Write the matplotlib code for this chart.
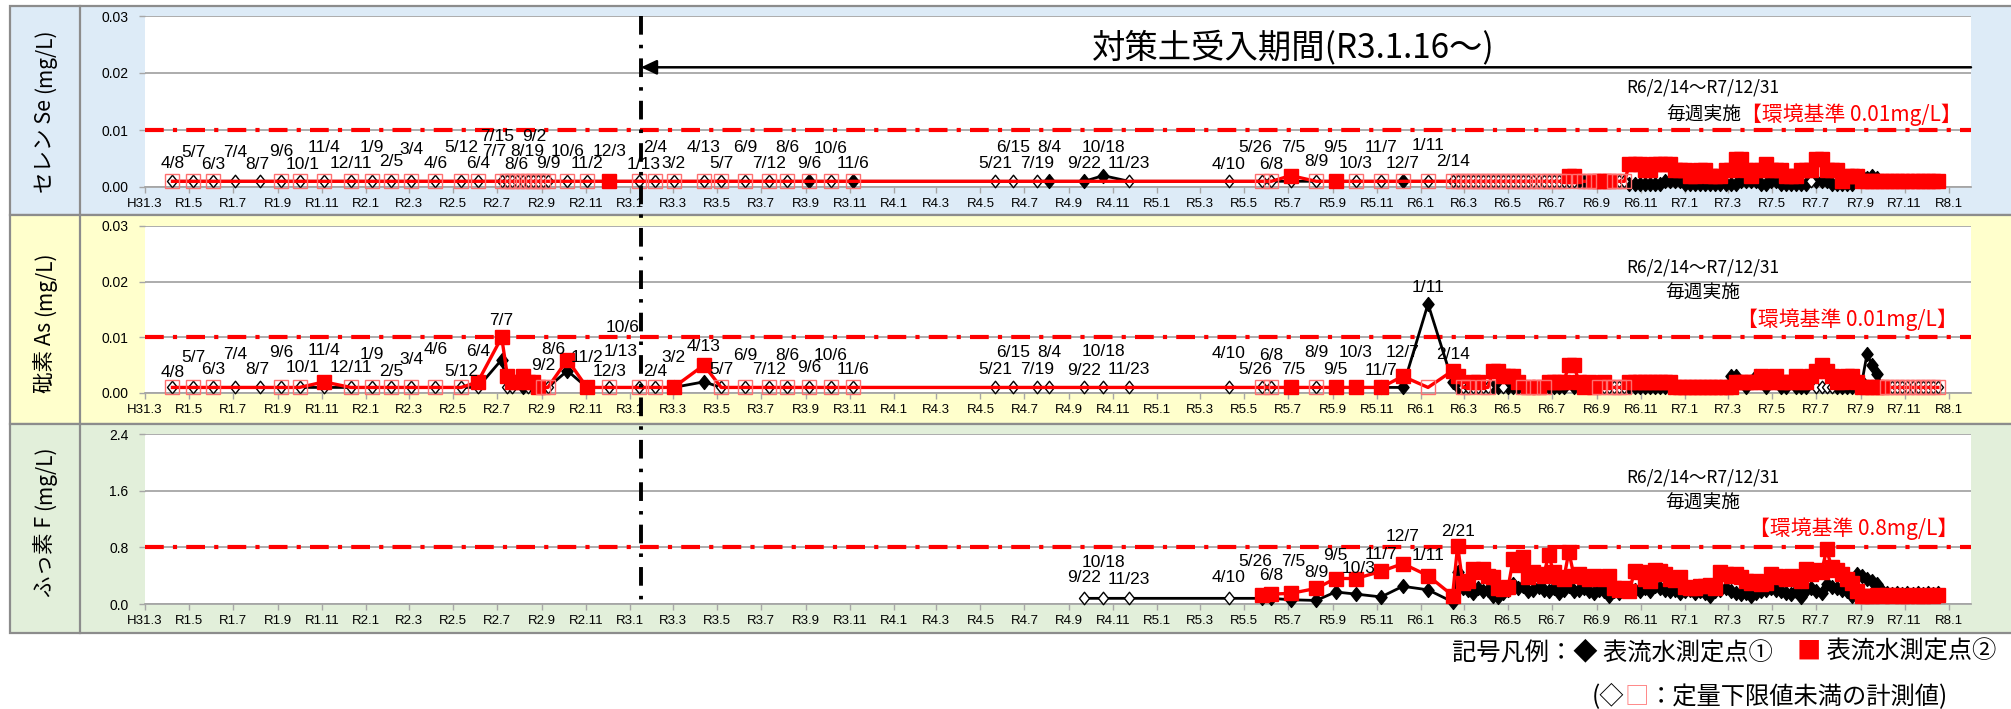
import matplotlib
matplotlib.use("Agg")
import matplotlib.pyplot as plt
import matplotlib.dates as mdates
from matplotlib import font_manager
from matplotlib.patches import Rectangle
from matplotlib.lines import Line2D
from matplotlib.path import Path
from matplotlib.ticker import FixedLocator, FuncFormatter
import numpy as np
import pandas as pd

ND = "ND"   # 定量下限値未満 (open marker)
N = None    # not measured

# ---------------- data ----------------
x_start = "2019-03-01"
x_end = "2026-02-01"
soil_start = "2021-01-16"   # 対策土受入開始

early_dates = [
    "2019-04-08", "2019-05-07", "2019-06-03", "2019-07-04", "2019-08-07", "2019-09-06", "2019-10-01", "2019-11-04", "2019-12-11",
    "2020-01-09", "2020-02-05", "2020-03-04", "2020-04-06", "2020-05-12", "2020-06-04",
    "2020-07-07", "2020-07-15", "2020-07-21", "2020-07-28", "2020-08-06", "2020-08-12", "2020-08-19", "2020-08-26", "2020-09-02", "2020-09-09",
    "2020-10-06", "2020-11-02", "2020-12-03",
    "2021-01-13", "2021-02-04", "2021-03-02", "2021-04-13", "2021-05-07", "2021-06-09", "2021-07-12", "2021-08-06", "2021-09-06", "2021-10-06", "2021-11-06",
    "2022-05-21", "2022-06-15", "2022-07-19", "2022-08-04", "2022-09-22", "2022-10-18", "2022-11-23",
    "2023-04-10", "2023-05-26", "2023-06-08", "2023-07-05", "2023-08-09", "2023-09-05", "2023-10-03", "2023-11-07", "2023-12-07",
    "2024-01-11"]
f_early_dates = ["2022-09-22", "2022-10-18", "2022-11-23", "2023-04-10", "2023-05-26", "2023-06-08", "2023-07-05",
                 "2023-08-09", "2023-09-05", "2023-10-03", "2023-11-07", "2023-12-07", "2024-01-11"]
weekly_start = "2024-02-14"   # 毎週実施

# セレン Se (mg/L)
se_p1_early = [ND, ND, ND, ND, ND, ND, ND, ND, ND,
               ND, ND, ND, ND, ND, ND,
               ND, ND, ND, ND, ND, ND, ND, ND, ND, ND,
               ND, ND, ND,
               ND, ND, ND, ND, ND, ND, ND, ND, 0.001, ND, 0.001,
               ND, ND, ND, 0.001, 0.001, 0.002, ND,
               ND, ND, ND, ND, ND, ND, ND, ND, 0.001,
               ND]
se_p2_early = [ND, ND, ND, N, N, ND, ND, ND, ND,
               ND, ND, ND, ND, ND, ND,
               ND, ND, ND, ND, ND, ND, ND, ND, ND, ND,
               ND, ND, 0.001,
               ND, ND, ND, ND, ND, ND, ND, ND, ND, ND, ND,
               N, N, N, N, N, N, N,
               N, ND, ND, 0.002, ND, 0.001, ND, ND, ND,
               ND]
se_p1_weekly = [ND, ND, ND, ND, ND, ND, ND, ND, ND, ND,
                ND, ND, ND, ND, ND, ND, ND, ND, ND, ND,
                ND, ND, ND, ND, ND, 0.001, 0.001, ND, ND, ND,
                ND, ND, ND, ND, ND, 0.0005, 0.0005, 0.0005, 0.0005, 0.0005,
                0.0005, 0.0005, 0.001, 0.001, 0.001, 0.001, 0.0005, 0.0005, 0.0005, 0.0005,
                0.0005, 0.0005, 0.0005, 0.0005, 0.0005, 0.0005, 0.0005, 0.001, 0.001, 0.001,
                0.001, 0.0005, 0.0005, 0.001, 0.001, 0.0005, 0.0005, 0.0005, 0.0005, 0.0005,
                0.0005, ND, 0.001, 0.001, 0.001, 0.0005, 0.0005, 0.0005, 0.0005, 0.0005,
                0.002, 0.002, 0.0015, 0.002, 0.0015, ND, ND, ND, ND, ND,
                ND, ND, ND, ND, ND, ND, ND]
se_p2_weekly = [ND, ND, ND, ND, ND, ND, ND, ND, ND, ND,
                ND, ND, ND, ND, ND, ND, ND, ND, ND, ND,
                ND, ND, ND, 0.002, 0.002, ND, ND, ND, 0.001, 0.001,
                0.001, 0.001, ND, ND, ND, 0.004, 0.004, 0.004, 0.003, 0.003,
                0.004, 0.004, 0.004, 0.004, 0.003, 0.003, 0.003, 0.002, 0.002, 0.003,
                0.003, 0.002, 0.002, 0.002, 0.003, 0.003, 0.005, 0.005, 0.003, 0.002,
                0.003, 0.003, 0.004, 0.003, 0.003, 0.003, 0.002, 0.002, 0.002, 0.003,
                0.003, 0.003, 0.005, 0.005, 0.003, 0.003, 0.003, 0.001, 0.002, 0.002,
                0.002, 0.001, 0.001, 0.001, 0.001, 0.001, 0.001, 0.001, 0.001, 0.001,
                0.001, 0.001, 0.001, 0.001, 0.001, 0.001, 0.001]

# 砒素 As (mg/L)
as_p1_early = [ND, ND, ND, ND, ND, ND, ND, ND, ND,
               ND, ND, ND, ND, ND, ND,
               0.006, ND, ND, 0.002, 0.001, ND, ND, ND, ND, ND,
               0.004, 0.001, ND,
               ND, ND, 0.001, 0.002, ND, ND, ND, ND, ND, ND, ND,
               ND, ND, ND, ND, ND, ND, ND,
               ND, ND, ND, ND, ND, ND, ND, 0.001, 0.001,
               0.016]
as_p2_early = [ND, ND, ND, N, N, ND, ND, 0.002, ND,
               ND, ND, ND, ND, ND, 0.002,
               0.010, 0.003, 0.002, 0.002, 0.003, 0.002, 0.002, 0.001, ND, ND,
               0.006, 0.001, ND,
               ND, ND, 0.001, 0.005, ND, ND, ND, ND, ND, ND, ND,
               N, N, N, N, N, N, N,
               N, ND, ND, 0.001, ND, 0.001, 0.001, 0.001, 0.003,
               ND]
as_p1_weekly = [0.002, 0.001, ND, ND, ND, ND, ND, ND, 0.001, 0.001,
                ND, 0.001, 0.001, 0.001, ND, ND, ND, ND, ND, 0.001,
                0.001, 0.001, 0.001, 0.002, 0.001, ND, ND, ND, ND, ND,
                ND, ND, ND, ND, ND, 0.001, 0.001, 0.001, 0.001, 0.001,
                0.001, 0.001, 0.001, 0.001, 0.001, 0.001, 0.001, 0.001, 0.001, 0.001,
                0.001, 0.001, 0.001, 0.001, 0.001, 0.003, 0.003, 0.002, 0.001, 0.002,
                0.003, 0.002, 0.001, 0.002, 0.002, 0.001, 0.001, 0.002, 0.001, 0.001,
                0.001, 0.002, ND, ND, ND, ND, 0.001, 0.001, 0.001, 0.001,
                0.001, 0.002, 0.007, 0.005, 0.0035, 0.001, ND, ND, ND, ND,
                ND, ND, ND, ND, ND, ND, ND]
as_p2_weekly = [0.004, 0.003, ND, ND, 0.002, 0.002, ND, ND, 0.004, 0.004,
                0.003, 0.003, 0.003, 0.002, ND, 0.001, ND, 0.001, ND, 0.002,
                0.002, 0.002, 0.002, 0.005, 0.005, 0.002, 0.001, 0.002, 0.001, ND,
                0.002, ND, ND, ND, ND, 0.002, 0.002, 0.002, 0.002, 0.002,
                0.002, 0.002, 0.002, 0.002, 0.001, 0.001, 0.001, 0.001, 0.001, 0.001,
                0.001, 0.001, 0.001, 0.001, 0.001, 0.001, 0.002, 0.002, 0.002, 0.002,
                0.002, 0.003, 0.002, 0.002, 0.003, 0.002, 0.002, 0.002, 0.003, 0.002,
                0.002, 0.003, 0.004, 0.005, 0.004, 0.003, 0.002, 0.002, 0.003, 0.003,
                0.002, 0.001, 0.001, 0.001, 0.001, 0.001, ND, ND, ND, ND,
                ND, ND, ND, ND, ND, ND, ND]

# ふっ素 F (mg/L)
f_p1_early = [ND, ND, ND, ND, 0.08, 0.08, 0.06, 0.05, 0.17, 0.14, 0.10, 0.25, 0.20]
f_p2_early = [N, N, N, N, 0.13, 0.14, 0.15, 0.22, 0.36, 0.36, 0.46, 0.57, 0.40]
f_p1_weekly = [0.03, 0.45, 0.22, 0.20, 0.15, 0.22, 0.18, 0.20, 0.12, 0.10,
               0.15, 0.20, 0.28, 0.22, 0.25, 0.18, 0.20, 0.24, 0.20, 0.18,
               0.22, 0.15, 0.20, 0.25, 0.18, 0.20, 0.22, 0.18, 0.15, 0.20,
               0.18, 0.12, 0.18, 0.15, 0.20, 0.22, 0.20, 0.18, 0.22, 0.18,
               0.25, 0.22, 0.20, 0.18, 0.20, 0.15, 0.18, 0.20, 0.15, 0.18,
               0.16, 0.12, 0.18, 0.20, 0.22, 0.18, 0.16, 0.14, 0.15, 0.12,
               0.16, 0.18, 0.20, 0.22, 0.20, 0.18, 0.16, 0.14, 0.18, 0.10,
               0.20, 0.22, 0.18, 0.15, 0.28, 0.24, 0.22, 0.20, 0.18, 0.12,
               0.42, 0.40, 0.36, 0.32, 0.28, 0.18, 0.15, 0.14, 0.15, 0.14,
               0.15, 0.14, 0.15, 0.14, 0.15, 0.14, 0.15]
f_p2_weekly = [0.12, 0.82, 0.30, 0.32, 0.50, 0.45, 0.50, 0.40, 0.38, 0.22,
               0.21, 0.24, 0.64, 0.55, 0.66, 0.38, 0.45, 0.42, 0.40, 0.69,
               0.45, 0.38, 0.35, 0.74, 0.40, 0.42, 0.38, 0.36, 0.40, 0.38,
               0.35, 0.40, 0.23, 0.20, 0.22, 0.18, 0.47, 0.45, 0.36, 0.33,
               0.48, 0.46, 0.42, 0.36, 0.34, 0.38, 0.24, 0.22, 0.23, 0.26,
               0.25, 0.27, 0.22, 0.45, 0.42, 0.40, 0.42, 0.38, 0.33, 0.30,
               0.33, 0.28, 0.30, 0.42, 0.40, 0.38, 0.36, 0.40, 0.38, 0.33,
               0.50, 0.42, 0.48, 0.45, 0.77, 0.52, 0.48, 0.42, 0.35, 0.30,
               0.18, 0.11, 0.12, 0.11, 0.13, 0.12, 0.13, 0.12, 0.13, 0.12,
               0.12, 0.13, 0.12, 0.12, 0.13, 0.12, 0.13]

quant_limit = {"se": 0.001, "as": 0.001, "f": 0.08}
env_standard = {"se": 0.01, "as": 0.01, "f": 0.8}
y_ticks = {"se": [0, 0.01, 0.02, 0.03], "as": [0, 0.01, 0.02, 0.03], "f": [0, 0.8, 1.6, 2.4]}

# date labels (date, y position[, day shift])
se_labels = [("2019-04-08", 0.0042), ("2019-05-07", 0.0061), ("2019-06-03", 0.0040), ("2019-07-04", 0.0061),
             ("2019-08-07", 0.0040, -3), ("2019-09-06", 0.0063), ("2019-10-01", 0.0040, 5), ("2019-11-04", 0.0070),
             ("2019-12-11", 0.0042), ("2020-01-09", 0.0070), ("2020-02-05", 0.0045), ("2020-03-04", 0.0065),
             ("2020-04-06", 0.0042), ("2020-05-12", 0.0070), ("2020-06-04", 0.0042), ("2020-07-07", 0.0063, -10),
             ("2020-07-15", 0.0088, -14), ("2020-08-06", 0.0040, -10), ("2020-08-19", 0.0063, -8), ("2020-09-02", 0.0088, -12),
             ("2020-09-09", 0.0042), ("2020-10-06", 0.0063), ("2020-11-02", 0.0042), ("2020-12-03", 0.0063),
             ("2021-01-13", 0.0040, 6), ("2021-02-04", 0.0070), ("2021-03-02", 0.0042), ("2021-04-13", 0.0070),
             ("2021-05-07", 0.0042), ("2021-06-09", 0.0070), ("2021-07-12", 0.0042), ("2021-08-06", 0.0070),
             ("2021-09-06", 0.0042), ("2021-10-06", 0.0068), ("2021-11-06", 0.0042), ("2022-05-21", 0.0042),
             ("2022-06-15", 0.0070), ("2022-07-19", 0.0042), ("2022-08-04", 0.0070), ("2022-09-22", 0.0042),
             ("2022-10-18", 0.0070), ("2022-11-23", 0.0042), ("2023-04-10", 0.0040), ("2023-05-26", 0.0070, -9),
             ("2023-06-08", 0.0040), ("2023-07-05", 0.0070, 4), ("2023-08-09", 0.0044), ("2023-09-05", 0.0070),
             ("2023-10-03", 0.0042), ("2023-11-07", 0.0070), ("2023-12-07", 0.0042), ("2024-01-11", 0.0072),
             ("2024-02-14", 0.0044)]
as_labels = [("2019-04-08", 0.0036), ("2019-05-07", 0.0063), ("2019-06-03", 0.0042), ("2019-07-04", 0.0070),
             ("2019-08-07", 0.0042, -3), ("2019-09-06", 0.0072), ("2019-10-01", 0.0045, 5), ("2019-11-04", 0.0077),
             ("2019-12-11", 0.0045), ("2020-01-09", 0.0070), ("2020-02-05", 0.0039), ("2020-03-04", 0.0060),
             ("2020-04-06", 0.0079), ("2020-05-12", 0.0039), ("2020-06-04", 0.0074), ("2020-07-07", 0.0130),
             ("2020-09-02", 0.0050), ("2020-08-06", 0.0079, 42), ("2020-11-02", 0.0063), ("2020-12-03", 0.0039),
             ("2021-01-13", 0.0074, -25), ("2020-10-06", 0.0118, 77), ("2021-02-04", 0.0039), ("2021-03-02", 0.0063),
             ("2021-04-13", 0.0083), ("2021-05-07", 0.0042), ("2021-06-09", 0.0068), ("2021-07-12", 0.0042),
             ("2021-08-06", 0.0068), ("2021-09-06", 0.0045), ("2021-10-06", 0.0068), ("2021-11-06", 0.0042),
             ("2022-05-21", 0.0042), ("2022-06-15", 0.0073), ("2022-07-19", 0.0042), ("2022-08-04", 0.0073),
             ("2022-09-22", 0.0040), ("2022-10-18", 0.0074), ("2022-11-23", 0.0042), ("2023-04-10", 0.0071),
             ("2023-05-26", 0.0043, -9), ("2023-06-08", 0.0067), ("2023-07-05", 0.0042, 4), ("2023-08-09", 0.0073),
             ("2023-09-05", 0.0042), ("2023-10-03", 0.0073), ("2023-11-07", 0.0040), ("2023-12-07", 0.0073),
             ("2024-01-11", 0.0190), ("2024-02-14", 0.0070)]
f_labels = [("2022-09-22", 0.37), ("2022-10-18", 0.59), ("2022-11-23", 0.34), ("2023-04-10", 0.37),
            ("2023-05-26", 0.60, -9), ("2023-06-08", 0.40), ("2023-07-05", 0.60, 4), ("2023-08-09", 0.44),
            ("2023-09-05", 0.69), ("2023-10-03", 0.50, 4), ("2023-11-07", 0.70), ("2023-12-07", 0.95),
            ("2024-01-11", 0.68), ("2024-02-21", 1.02)]

panel_titles = [("セレン Se", "(mg/L)"), ("砒素 As", "(mg/L)"), ("ふっ素 F", "(mg/L)")]
period_text = "R6/2/14〜R7/12/31"
weekly_text = "毎週実施"
std_texts = ["【環境基準 0.01mg/L】", "【環境基準 0.01mg/L】", "【環境基準 0.8mg/L】"]
title_text = "対策土受入期間(R3.1.16〜)"
legend_1 = ["記号凡例：◆ 表流水測定点①　", "■", " 表流水測定点②"]
legend_2 = ["(◇", "□", "：定量下限値未満の計測値)"]

# ---------------- style ----------------
JP = ['Noto Sans CJK JP', 'DejaVu Sans']
installed = {f.name for f in font_manager.fontManager.ttflist}
if 'Liberation Sans Narrow' in installed:
    LAT = ['Liberation Sans Narrow', 'DejaVu Sans']
    lbl_size, xtick_size, ytick_size = 13.5, 10.5, 11.0
else:
    LAT = ['Liberation Sans', 'DejaVu Sans']
    lbl_size, xtick_size, ytick_size = 12.5, 9.5, 10.0
plt.rcParams['font.family'] = ['Liberation Sans', 'Noto Sans CJK JP', 'DejaVu Sans']

W, H = 2011, 709
def fx(px):
    return px / W
def fy(py):
    return 1 - py / H

fig = plt.figure(figsize=(W / 100, H / 100), dpi=100)
fig.patch.set_facecolor('white')

bg_colors = ['#DDEBF7', '#FFFFCC', '#E2EFDA']
panel_px = [(6, 215), (215, 424), (424, 633)]
for (t, b), c in zip(panel_px, bg_colors):
    fig.add_artist(Rectangle((fx(10), fy(b)), 1 - fx(10) + 0.01, fy(t) - fy(b), transform=fig.transFigure,
                             facecolor=c, edgecolor='#8C8C8C', lw=1.6, zorder=-10))
fig.add_artist(Line2D([fx(80), fx(80)], [fy(633), fy(6)], transform=fig.transFigure,
                      color='#8C8C8C', lw=1.6, zorder=-9))

axes_px = [(187, 16), (393, 226), (604, 434)]
keys = ["se", "as", "f"]
axes = []
for (b, t) in axes_px:
    ax = fig.add_axes([fx(145), fy(b), fx(1971) - fx(145), fy(t) - fy(b)])
    axes.append(ax)

DIAM = Path([(0, 1), (0.8, 0), (0, -1), (-0.8, 0), (0, 1)],
            [Path.MOVETO, Path.LINETO, Path.LINETO, Path.LINETO, Path.CLOSEPOLY])

xmin = mdates.date2num(pd.Timestamp(x_start))
xmax = mdates.date2num(pd.Timestamp(x_end))


def build(dates, vals, ql):
    xs, ys, ks = [], [], []
    for d, v in zip(dates, vals):
        if v is None:
            continue
        xs.append(mdates.date2num(d))
        if isinstance(v, str):
            ys.append(ql)
            ks.append(0)
        else:
            ys.append(v)
            ks.append(1)
    return np.array(xs), np.array(ys), np.array(ks)


def era_fmt(x, pos):
    d = mdates.num2date(x)
    if d.year == 2019 and d.month < 5:
        return f"H31.{d.month}"
    return f"R{d.year - 2018}.{d.month}"


series = {
    "se": (early_dates, se_p1_early + se_p1_weekly, se_p2_early + se_p2_weekly, len(se_p1_weekly)),
    "as": (early_dates, as_p1_early + as_p1_weekly, as_p2_early + as_p2_weekly, len(as_p1_weekly)),
    "f": (f_early_dates, f_p1_early + f_p1_weekly, f_p2_early + f_p2_weekly, len(f_p1_weekly)),
}
labels = {"se": se_labels, "as": as_labels, "f": f_labels}

for ax, k in zip(axes, keys):
    ed, v1, v2, nw = series[k]
    dates = list(pd.to_datetime(ed)) + list(pd.date_range(weekly_start, periods=nw, freq="7D"))
    dates = [d.to_pydatetime() for d in dates]
    ql = quant_limit[k]
    x1, y1, k1 = build(dates, v1, ql)
    x2, y2, k2 = build(dates, v2, ql)

    ax.set_facecolor('white')
    ax.set_xlim(xmin, xmax)
    ax.set_ylim(0, y_ticks[k][-1])
    ax.yaxis.set_major_locator(FixedLocator(y_ticks[k]))
    ax.yaxis.set_major_formatter(FuncFormatter(lambda v, p, kk=k: (f"{v:.1f}" if kk == "f" else f"{v:.2f}")))
    ax.xaxis.set_major_locator(mdates.MonthLocator(bymonth=(1, 3, 5, 7, 9, 11)))
    ax.xaxis.set_major_formatter(FuncFormatter(era_fmt))
    for s in ['top', 'right', 'left']:
        ax.spines[s].set_visible(False)
    ax.spines['bottom'].set_color('#A6A6A6')
    ax.spines['bottom'].set_linewidth(1.3)
    ax.spines['bottom'].set_zorder(1)
    ax.set_axisbelow(True)
    ax.yaxis.grid(True, color='#A6A6A6', lw=1.3, zorder=0)
    ax.tick_params(axis='x', length=4, width=1, color='#A6A6A6', pad=4, labelsize=xtick_size, labelcolor='black')
    ax.tick_params(axis='y', length=4, width=1, color='#A6A6A6', pad=8, labelsize=ytick_size, labelcolor='black')
    for lab in ax.get_xticklabels() + ax.get_yticklabels():
        lab.set_family(LAT)

    ax.axhline(env_standard[k], color='red', lw=3.0, dashes=(4.5, 2.2, 1.0, 2.2),
               dash_capstyle='butt', zorder=1.5)

    ax.plot(x1, y1, color='black', lw=2.0, zorder=3, clip_on=False)
    ax.plot(x1[k1 == 1], y1[k1 == 1], ls='none', marker=DIAM, ms=10, mfc='black', mec='black', zorder=3.5, clip_on=False)
    ax.plot(x1[k1 == 0], y1[k1 == 0], ls='none', marker=DIAM, ms=9, mfc='white', mec='black', mew=1.0, zorder=3.5, clip_on=False)
    ax.plot(x2, y2, color='red', lw=2.4, zorder=4, clip_on=False)
    ax.plot(x2[k2 == 1], y2[k2 == 1], ls='none', marker='s', ms=9.5, mfc='red', mec='red', zorder=5, clip_on=False)
    ax.plot(x2[k2 == 0], y2[k2 == 0], ls='none', marker='s', ms=9.5, mfc='none', mec='#FF6F6F', mew=1.0, zorder=5, clip_on=False)

    for item in labels[k]:
        d = pd.Timestamp(item[0])
        shift = item[2] if len(item) > 2 else 0
        xl = mdates.date2num((d + pd.Timedelta(days=shift)).to_pydatetime())
        ax.text(xl, item[1], f"{d.month}/{d.day}", ha='center', va='center', fontsize=lbl_size,
                family=LAT, zorder=7, clip_on=False)

# period / standard texts
text_pos = {
    "se": dict(period=(0.853, 0.579), weekly=None, std=(0.995, 0.421)),
    "as": dict(period=(0.853, 0.749), weekly=(0.853, 0.599), std=(0.993, 0.437)),
    "f": dict(period=(0.853, 0.747), weekly=(0.853, 0.594), std=(0.993, 0.441)),
}
for ax, k, st in zip(axes, keys, std_texts):
    tp = text_pos[k]
    ax.text(*tp["period"], period_text, transform=ax.transAxes, fontsize=12.5, ha='center', va='center',
            family=JP, zorder=8)
    red = ax.text(*tp["std"], st, transform=ax.transAxes, fontsize=15, ha='right', va='center',
                  color='red', family=JP, zorder=8)
    if tp["weekly"] is None:
        ax.annotate(weekly_text, xy=(0, 0.5), xycoords=red, ha='right', va='center', fontsize=13.5,
                    family=JP, zorder=8)
    else:
        ax.text(*tp["weekly"], weekly_text, transform=ax.transAxes, fontsize=13.5, ha='center',
                va='center', family=JP, zorder=8)

# 対策土受入期間 title and arrow
ax1 = axes[0]
xv = mdates.date2num(pd.Timestamp(soil_start))
ax1.text(0.5186, 0.813, title_text, transform=ax1.transAxes, fontsize=24, ha='left', va='center',
         family=JP, zorder=8)
ax1.annotate("", xy=(xv, 0.021), xytext=(xmax, 0.021),
             arrowprops=dict(arrowstyle='-|>,head_length=0.85,head_width=0.4', color='black', lw=1.8,
                             shrinkA=0, shrinkB=0, mutation_scale=11), zorder=8)

# vertical dash-dot line across three panels
inv = fig.transFigure.inverted()
top = inv.transform(axes[0].transData.transform((xv, 0.03)))
bot = inv.transform(axes[2].transData.transform((xv, 0.0)))
fig.add_artist(Line2D([top[0], bot[0]], [top[1], bot[1]], transform=fig.transFigure, color='black',
                      lw=2.8, dashes=(4.8, 2.6, 0.9, 2.6), dash_capstyle='butt', zorder=9))

# left column labels
main_centers = [146, 357, 556]
for (main, unit), yc in zip(panel_titles, main_centers):
    t = fig.text(fx(45), fy(yc), main, rotation=90, fontsize=15.5, ha='center', va='center', family=JP)
    axes[2].annotate(unit, xy=(0.5, 1), xycoords=t, xytext=(0, 4), textcoords='offset points',
                     rotation=90, ha='center', va='bottom', fontsize=15, family=JP, annotation_clip=False)

# legends
t1 = fig.text(fx(1452), fy(652), legend_1[0], fontsize=17.5, ha='left', va='center', family=JP)
t2 = axes[2].annotate(legend_1[1], xy=(1, 0.5), xycoords=t1, ha='left', va='center', fontsize=17.5,
                      color='red', family=JP, annotation_clip=False)
axes[2].annotate(legend_1[2], xy=(1, 0.5), xycoords=t2, ha='left', va='center', fontsize=17.5,
                 family=JP, annotation_clip=False)
u1 = fig.text(fx(1592), fy(697), legend_2[0], fontsize=17.5, ha='left', va='center', family=JP)
u2 = axes[2].annotate(legend_2[1], xy=(1, 0.5), xycoords=u1, ha='left', va='center', fontsize=17.5,
                      color='#FF7F7F', family=JP, annotation_clip=False)
axes[2].annotate(legend_2[2], xy=(1, 0.5), xycoords=u2, ha='left', va='center', fontsize=17.5,
                 family=JP, annotation_clip=False)

fig.savefig("out.png", dpi=100)
